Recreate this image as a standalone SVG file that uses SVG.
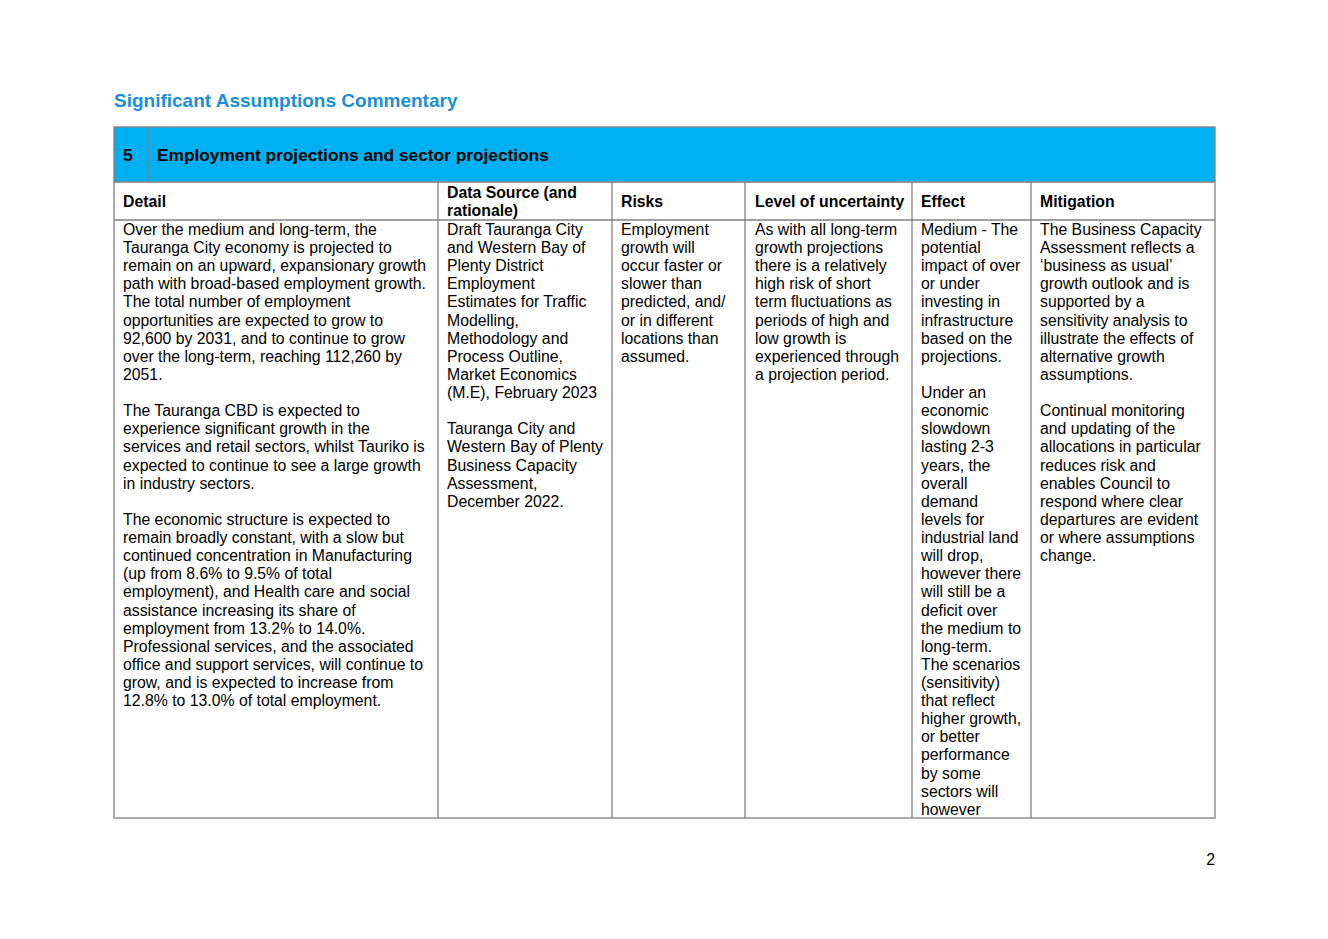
<svg xmlns="http://www.w3.org/2000/svg" width="1328" height="939" viewBox="0 0 1328 939">
<style>
.t{font-family:"Liberation Sans",Arial,sans-serif;font-size:15.8px;fill:#000}
.h{font-family:"Liberation Sans",Arial,sans-serif;font-size:15.8px;font-weight:bold;fill:#000}
.b{font-family:"Liberation Sans",Arial,sans-serif;font-size:17.3px;font-weight:bold;fill:#000}
.ttl{font-family:"Liberation Sans",Arial,sans-serif;font-size:19px;font-weight:bold;fill:#1a8fd9}
.ln{stroke:#808080;stroke-width:1.3;fill:none}
</style>
<rect width="1328" height="939" fill="#fff"/>
<text class="ttl" x="114" y="107">Significant Assumptions Commentary</text>
<g id="band">
<rect x="114" y="127" width="1101" height="55" fill="#00b0f0"/>
<text class="b" x="123" y="161">5</text>
<text class="b" x="157" y="161">Employment projections and sector projections</text>
</g>
<g id="grid">
<rect class="ln" x="114" y="127" width="1101" height="691"/>
<line class="ln" x1="148" y1="127" x2="148" y2="182"/>
<line class="ln" x1="114" y1="182" x2="1215" y2="182"/>
<line class="ln" x1="114" y1="220" x2="1215" y2="220"/>
<line class="ln" x1="438" y1="182" x2="438" y2="818"/>
<line class="ln" x1="612" y1="182" x2="612" y2="818"/>
<line class="ln" x1="745" y1="182" x2="745" y2="818"/>
<line class="ln" x1="912" y1="182" x2="912" y2="818"/>
<line class="ln" x1="1031" y1="182" x2="1031" y2="818"/>
</g>
<g id="headers">
<text class="h" x="123" y="207">Detail</text>
<text class="h" x="447" y="198">Data Source (and</text>
<text class="h" x="447" y="216">rationale)</text>
<text class="h" x="621" y="207">Risks</text>
<text class="h" x="755" y="207">Level of uncertainty</text>
<text class="h" x="921" y="207">Effect</text>
<text class="h" x="1040" y="207">Mitigation</text>
</g>
<g id="detail">
<text class="t" y="235">
<tspan x="123">Over the medium and long-term, the</tspan>
<tspan x="123" dy="18.12">Tauranga City economy is projected to</tspan>
<tspan x="123" dy="18.12">remain on an upward, expansionary growth</tspan>
<tspan x="123" dy="18.12">path with broad-based employment growth.</tspan>
<tspan x="123" dy="18.12">The total number of employment</tspan>
<tspan x="123" dy="18.12">opportunities are expected to grow to</tspan>
<tspan x="123" dy="18.12">92,600 by 2031, and to continue to grow</tspan>
<tspan x="123" dy="18.12">over the long-term, reaching 112,260 by</tspan>
<tspan x="123" dy="18.12">2051.</tspan>
<tspan x="123" dy="36.24">The Tauranga CBD is expected to</tspan>
<tspan x="123" dy="18.12">experience significant growth in the</tspan>
<tspan x="123" dy="18.12">services and retail sectors, whilst Tauriko is</tspan>
<tspan x="123" dy="18.12">expected to continue to see a large growth</tspan>
<tspan x="123" dy="18.12">in industry sectors.</tspan>
<tspan x="123" dy="36.24">The economic structure is expected to</tspan>
<tspan x="123" dy="18.12">remain broadly constant, with a slow but</tspan>
<tspan x="123" dy="18.12">continued concentration in Manufacturing</tspan>
<tspan x="123" dy="18.12">(up from 8.6% to 9.5% of total</tspan>
<tspan x="123" dy="18.12">employment), and Health care and social</tspan>
<tspan x="123" dy="18.12">assistance increasing its share of</tspan>
<tspan x="123" dy="18.12">employment from 13.2% to 14.0%.</tspan>
<tspan x="123" dy="18.12">Professional services, and the associated</tspan>
<tspan x="123" dy="18.12">office and support services, will continue to</tspan>
<tspan x="123" dy="18.12">grow, and is expected to increase from</tspan>
<tspan x="123" dy="18.12">12.8% to 13.0% of total employment.</tspan>
</text>
</g>
<g id="datasource">
<text class="t" y="235">
<tspan x="447">Draft Tauranga City</tspan>
<tspan x="447" dy="18.12">and Western Bay of</tspan>
<tspan x="447" dy="18.12">Plenty District</tspan>
<tspan x="447" dy="18.12">Employment</tspan>
<tspan x="447" dy="18.12">Estimates for Traffic</tspan>
<tspan x="447" dy="18.12">Modelling,</tspan>
<tspan x="447" dy="18.12">Methodology and</tspan>
<tspan x="447" dy="18.12">Process Outline,</tspan>
<tspan x="447" dy="18.12">Market Economics</tspan>
<tspan x="447" dy="18.12">(M.E), February 2023</tspan>
<tspan x="447" dy="36.24">Tauranga City and</tspan>
<tspan x="447" dy="18.12">Western Bay of Plenty</tspan>
<tspan x="447" dy="18.12">Business Capacity</tspan>
<tspan x="447" dy="18.12">Assessment,</tspan>
<tspan x="447" dy="18.12">December 2022.</tspan>
</text>
</g>
<g id="risks">
<text class="t" y="235">
<tspan x="621">Employment</tspan>
<tspan x="621" dy="18.12">growth will</tspan>
<tspan x="621" dy="18.12">occur faster or</tspan>
<tspan x="621" dy="18.12">slower than</tspan>
<tspan x="621" dy="18.12">predicted, and/</tspan>
<tspan x="621" dy="18.12">or in different</tspan>
<tspan x="621" dy="18.12">locations than</tspan>
<tspan x="621" dy="18.12">assumed.</tspan>
</text>
</g>
<g id="uncertainty">
<text class="t" y="235">
<tspan x="755">As with all long-term</tspan>
<tspan x="755" dy="18.12">growth projections</tspan>
<tspan x="755" dy="18.12">there is a relatively</tspan>
<tspan x="755" dy="18.12">high risk of short</tspan>
<tspan x="755" dy="18.12">term fluctuations as</tspan>
<tspan x="755" dy="18.12">periods of high and</tspan>
<tspan x="755" dy="18.12">low growth is</tspan>
<tspan x="755" dy="18.12">experienced through</tspan>
<tspan x="755" dy="18.12">a projection period.</tspan>
</text>
</g>
<g id="effect">
<text class="t" y="235">
<tspan x="921">Medium - The</tspan>
<tspan x="921" dy="18.12">potential</tspan>
<tspan x="921" dy="18.12">impact of over</tspan>
<tspan x="921" dy="18.12">or under</tspan>
<tspan x="921" dy="18.12">investing in</tspan>
<tspan x="921" dy="18.12">infrastructure</tspan>
<tspan x="921" dy="18.12">based on the</tspan>
<tspan x="921" dy="18.12">projections.</tspan>
<tspan x="921" dy="36.24">Under an</tspan>
<tspan x="921" dy="18.12">economic</tspan>
<tspan x="921" dy="18.12">slowdown</tspan>
<tspan x="921" dy="18.12">lasting 2-3</tspan>
<tspan x="921" dy="18.12">years, the</tspan>
<tspan x="921" dy="18.12">overall</tspan>
<tspan x="921" dy="18.12">demand</tspan>
<tspan x="921" dy="18.12">levels for</tspan>
<tspan x="921" dy="18.12">industrial land</tspan>
<tspan x="921" dy="18.12">will drop,</tspan>
<tspan x="921" dy="18.12">however there</tspan>
<tspan x="921" dy="18.12">will still be a</tspan>
<tspan x="921" dy="18.12">deficit over</tspan>
<tspan x="921" dy="18.12">the medium to</tspan>
<tspan x="921" dy="18.12">long-term.</tspan>
<tspan x="921" dy="18.12">The scenarios</tspan>
<tspan x="921" dy="18.12">(sensitivity)</tspan>
<tspan x="921" dy="18.12">that reflect</tspan>
<tspan x="921" dy="18.12">higher growth,</tspan>
<tspan x="921" dy="18.12">or better</tspan>
<tspan x="921" dy="18.12">performance</tspan>
<tspan x="921" dy="18.12">by some</tspan>
<tspan x="921" dy="18.12">sectors will</tspan>
<tspan x="921" dy="18.12">however</tspan>
</text>
</g>
<g id="mitigation">
<text class="t" y="235">
<tspan x="1040">The Business Capacity</tspan>
<tspan x="1040" dy="18.12">Assessment reflects a</tspan>
<tspan x="1040" dy="18.12">‘business as usual’</tspan>
<tspan x="1040" dy="18.12">growth outlook and is</tspan>
<tspan x="1040" dy="18.12">supported by a</tspan>
<tspan x="1040" dy="18.12">sensitivity analysis to</tspan>
<tspan x="1040" dy="18.12">illustrate the effects of</tspan>
<tspan x="1040" dy="18.12">alternative growth</tspan>
<tspan x="1040" dy="18.12">assumptions.</tspan>
<tspan x="1040" dy="36.24">Continual monitoring</tspan>
<tspan x="1040" dy="18.12">and updating of the</tspan>
<tspan x="1040" dy="18.12">allocations in particular</tspan>
<tspan x="1040" dy="18.12">reduces risk and</tspan>
<tspan x="1040" dy="18.12">enables Council to</tspan>
<tspan x="1040" dy="18.12">respond where clear</tspan>
<tspan x="1040" dy="18.12">departures are evident</tspan>
<tspan x="1040" dy="18.12">or where assumptions</tspan>
<tspan x="1040" dy="18.12">change.</tspan>
</text>
</g>
<text class="t" x="1215" y="865" text-anchor="end">2</text>
</svg>
